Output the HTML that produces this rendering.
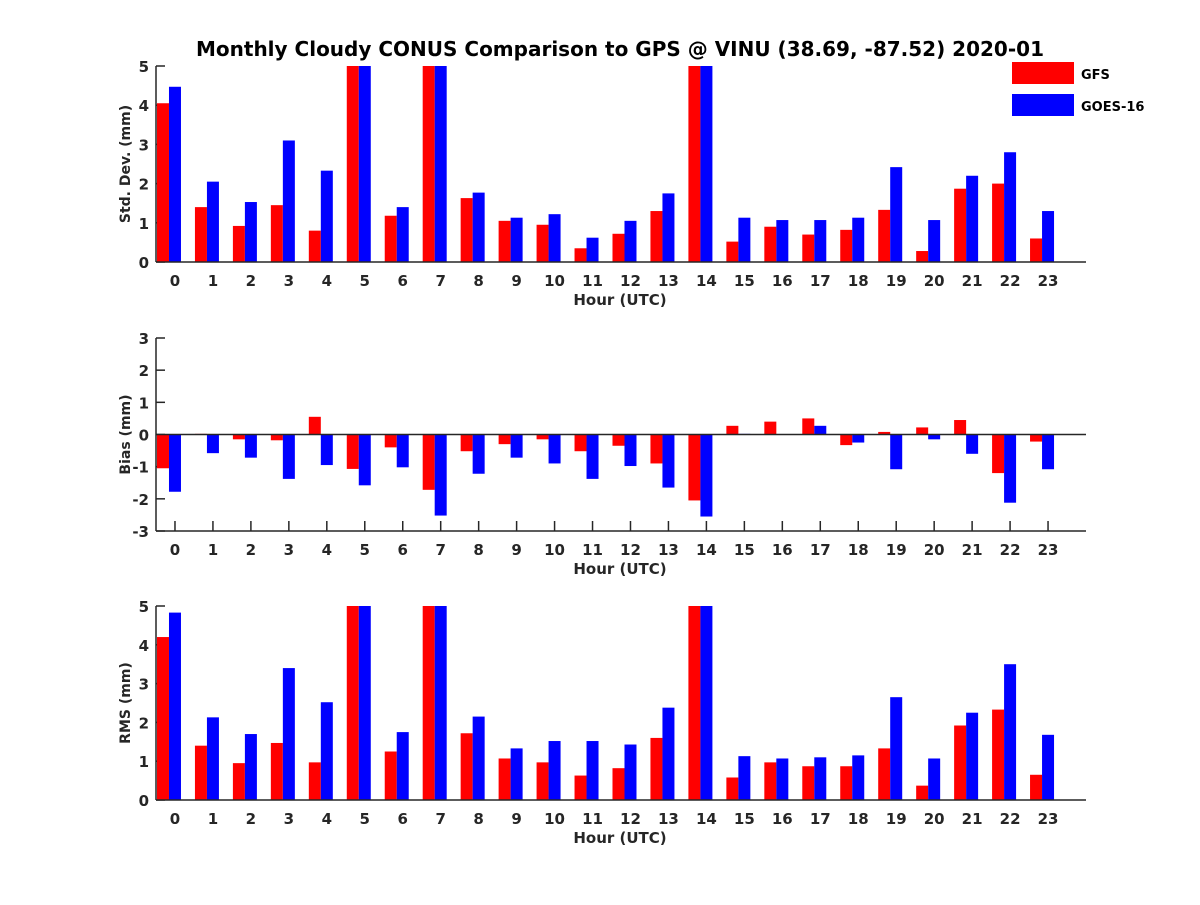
<!DOCTYPE html>
<html><head><meta charset="utf-8"><style>
body{margin:0;background:#fff;}
svg text{font-family:"DejaVu Sans","Liberation Sans",sans-serif;font-weight:bold;fill:#262626;}
</style></head><body>
<svg id="c" width="1200" height="900" xmlns="http://www.w3.org/2000/svg">
<text x="620" y="56" text-anchor="middle" font-size="20" style="fill:#000">Monthly Cloudy CONUS Comparison to GPS @ VINU (38.69, -87.52) 2020-01</text>
<g>
<rect x="1012" y="62" width="62" height="22" fill="#ff0000"/>
<text x="1081" y="79" font-size="13" style="fill:#000">GFS</text>
<rect x="1012" y="94" width="62" height="22" fill="#0000ff"/>
<text x="1081" y="111" font-size="13" style="fill:#000">GOES-16</text>
</g>
</svg>
<script>
const hours=[0,1,2,3,4,5,6,7,8,9,10,11,12,13,14,15,16,17,18,19,20,21,22,23];
const stdGFS=[4.05,1.4,0.92,1.45,0.8,5,1.18,5,1.63,1.05,0.95,0.35,0.72,1.3,5,0.52,0.9,0.7,0.82,1.33,0.28,1.87,2.0,0.6];
const stdGOES=[4.47,2.05,1.53,3.1,2.33,5,1.4,5,1.77,1.13,1.22,0.62,1.05,1.75,5,1.13,1.07,1.07,1.13,2.42,1.07,2.2,2.8,1.3];
const biasGFS=[-1.05,0.02,-0.15,-0.18,0.55,-1.07,-0.4,-1.72,-0.52,-0.3,-0.15,-0.52,-0.35,-0.9,-2.05,0.27,0.4,0.5,-0.33,0.08,0.22,0.45,-1.2,-0.22];
const biasGOES=[-1.78,-0.58,-0.72,-1.38,-0.95,-1.58,-1.02,-2.52,-1.22,-0.72,-0.9,-1.38,-0.98,-1.65,-2.55,0.02,0,0.27,-0.25,-1.08,-0.15,-0.6,-2.12,-1.08];
const rmsGFS=[4.2,1.4,0.95,1.47,0.97,5,1.25,5,1.72,1.07,0.97,0.63,0.82,1.6,5,0.58,0.97,0.87,0.87,1.33,0.37,1.92,2.33,0.65];
const rmsGOES=[4.83,2.13,1.7,3.4,2.52,5,1.75,5,2.15,1.33,1.52,1.52,1.43,2.38,5,1.13,1.07,1.1,1.15,2.65,1.07,2.25,3.5,1.68];
const stdTicks=[0,1,2,3,4,5];
const biasTicks=[-3,-2,-1,0,1,2,3];
const rmsTicks=[0,1,2,3,4,5];

const svg=document.getElementById('c');
const NS='http://www.w3.org/2000/svg';
function mk(t,a,p){const e=document.createElementNS(NS,t);for(const k in a)e.setAttribute(k,a[k]);p.appendChild(e);return e;}
const L=156,R=1086;
const xs=h=>L+(h+0.5)*(R-L)/24.5;

function panel(name,top,bot,ymin,ymax,ticks,ylab,g1,g2){
  const y=v=>bot-(v-ymin)/(ymax-ymin)*(bot-top);
  const g=mk('g',{},svg);
  
  
  hours.forEach(h=>{
    const cx=xs(h);
    mk('line',{x1:cx,x2:cx,y1:bot,y2:bot-10,stroke:'#262626','stroke-width':1.5},g);
    const t=mk('text',{x:cx,y:bot+24,'text-anchor':'middle','font-size':15},g);
    t.textContent=h;
    
    
  });
  ticks.forEach(v=>{
    mk('line',{x1:L,x2:L+9,y1:y(v),y2:y(v),stroke:'#262626','stroke-width':1.5},g);
    const t=mk('text',{x:L-7,y:y(v)+6,'text-anchor':'end','font-size':15},g);
    t.textContent=v;
    
    
  });
  hours.forEach((h,i)=>{
    const cx=xs(h);
    const vals=[[g1[i],'#ff0000',cx-18,'gfs'],[g2[i],'#0000ff',cx-6,'goes']];
    vals.forEach(([v,col,x0,s])=>{
      const vv=Math.max(ymin,Math.min(ymax,v));
      const y0=y(Math.max(0,ymin)),y1=y(vv);
      const r=mk('rect',{x:x0,y:Math.min(y0,y1),width:12,height:Math.abs(y1-y0),fill:col},g);
      
      
    });
  });
  if(ymin<0) mk('line',{x1:L,x2:R,y1:y(0),y2:y(0),stroke:'#262626','stroke-width':1.5},g);
  mk('line',{x1:L,x2:R,y1:bot,y2:bot,stroke:'#262626','stroke-width':1.5},g);
  mk('line',{x1:L,x2:L,y1:top,y2:bot,stroke:'#262626','stroke-width':1.5},g);
  const xl=mk('text',{x:620,y:bot+43,'text-anchor':'middle','font-size':15},g);
  xl.textContent='Hour (UTC)';
  
  
  const yc=(top+bot)/2;
  const yl=mk('text',{x:130,y:yc,'text-anchor':'middle','font-size':14,transform:'rotate(-90 130 '+yc+')'},g);
  yl.textContent=ylab;
  
  
}
panel('std',66,262,0,5,stdTicks,'Std. Dev. (mm)',stdGFS,stdGOES);
panel('bias',338,531,-3,3,biasTicks,'Bias (mm)',biasGFS,biasGOES);
panel('rms',606,800,0,5,rmsTicks,'RMS (mm)',rmsGFS,rmsGOES);
</script>
</body></html>
